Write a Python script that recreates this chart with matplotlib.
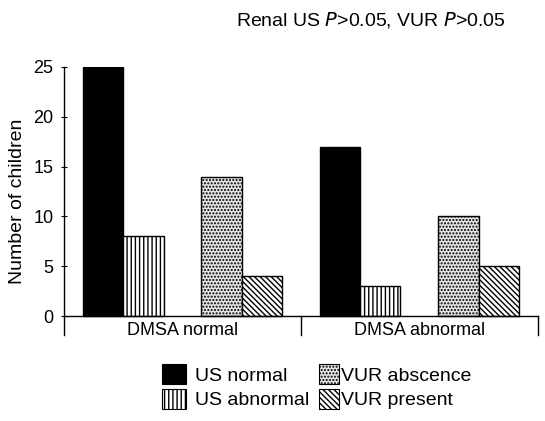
import matplotlib
matplotlib.use("Agg")
import matplotlib.pyplot as plt
from matplotlib.patches import Patch

plt.rcParams['font.family'] = ['Liberation Sans', 'DejaVu Sans']
plt.rcParams['hatch.linewidth'] = 1.0

# data
groups = ['DMSA normal', 'DMSA abnormal']
series = ['US normal', 'US abnormal', 'VUR abscence', 'VUR present']
us_normal = [25, 17]
us_abnormal = [8, 3]
vur_absence = [14, 10]
vur_present = [4, 5]
yticks = [0, 5, 10, 15, 20, 25]

values = [us_normal, us_abnormal, vur_absence, vur_present]
offsets = [0.165, 0.335, 0.665, 0.835]
faces = ['black', 'white', '#e4e4e4', 'white']
hatches = [None, '||||', '.....', '\\\\\\\\\\\\']

fig = plt.figure(figsize=(5.45, 4.21), dpi=100)
ax = fig.add_axes([0.1174, 0.204, 0.8696, 0.637])

width = 0.17
handles = []
for vals, off, fc, h, name in zip(values, offsets, faces, hatches, series):
    xs = [g + off for g in range(len(groups))]
    ax.bar(xs, vals, width=width, color=fc, edgecolor='black', hatch=h, linewidth=1.0)
    handles.append(Patch(facecolor=fc, edgecolor='black', hatch=h, linewidth=0.8, label=name))

ax.set_xlim(0, 2)
ax.set_ylim(-1.9, 25)
ax.set_yticks(yticks)
ax.set_xticks([])
for s in ['top', 'right', 'bottom']:
    ax.spines[s].set_visible(False)
ax.spines['left'].set_linewidth(1.0)
ax.tick_params(axis='y', direction='inout', length=5, labelsize=13, pad=5)

# category axis drawn at y = 0 with separators
ax.plot([0, 2], [0, 0], color='black', lw=1.0, clip_on=False)
for xv in [1, 2]:
    ax.plot([xv, xv], [-1.9, 0], color='black', lw=1.0, clip_on=False)
for i, g in enumerate(groups):
    ax.text(i + 0.5, -0.6, g, ha='center', va='top', fontsize=13)

ax.set_ylabel('Number of children', fontsize=14, labelpad=5)

fig.text(0.927, 0.952, r'Renal US $\it{P}$>0.05, VUR $\it{P}$>0.05',
         ha='right', va='center', fontsize=14)

leg1 = fig.legend(handles=handles[:2], loc='center left', bbox_to_anchor=(0.28, 0.081),
                  frameon=False, fontsize=14, handlelength=1.2, handleheight=1.2,
                  handletextpad=0.5, labelspacing=0.2, borderpad=0)
leg2 = fig.legend(handles=handles[2:], loc='center left', bbox_to_anchor=(0.568, 0.081),
                  frameon=False, fontsize=14, handlelength=1.0, handleheight=1.2,
                  handletextpad=0.1, labelspacing=0.2, borderpad=0)

fig.savefig('out.png', dpi=100)
